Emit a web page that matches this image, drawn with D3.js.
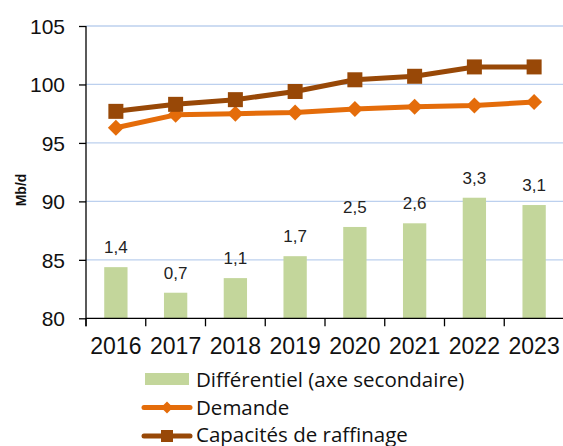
<!DOCTYPE html>
<html>
<head>
<meta charset="utf-8">
<script src="https://cdn.jsdelivr.net/npm/d3@7"></script>
<style>
  html, body { margin: 0; padding: 0; background: #fff; }
  svg { display: block; }
</style>
</head>
<body>
<svg id="chart" width="563" height="446"></svg>
<script>
// Raffinage mondial : demande, capacités et différentiel (Mb/d)
const years = ["2016", "2017", "2018", "2019", "2020", "2021", "2022", "2023"];
const demande = [96.3, 97.4, 97.5, 97.6, 97.9, 98.1, 98.2, 98.5];
const capacites = [97.7, 98.3, 98.7, 99.4, 100.4, 100.7, 101.5, 101.5];
const differentiel = [1.4, 0.7, 1.1, 1.7, 2.5, 2.6, 3.3, 3.1];
const yTicks = [80, 85, 90, 95, 100, 105];
const legendLabels = ["Différentiel (axe secondaire)", "Demande", "Capacités de raffinage"];

const colors = { bar: "#C3D69B", demande: "#E46C0A", capacites: "#984807", grid: "#BCD0EE" };

const svg = d3.select("#chart");
const plot = { left: 86, right: 564, top: 26, bottom: 318.3 };

const x = d3.scaleBand().domain(years).range([plot.left, plot.right]).padding(0);
const xc = d => x(d) + x.bandwidth() / 2;
const y = d3.scaleLinear().domain([80, 105]).range([plot.bottom, plot.top]);
// secondary axis (not drawn) for the differential bars
const y2 = d3.scaleLinear().domain([0, 8]).range([plot.bottom, plot.top]);

// gridlines
svg.append("g")
  .selectAll("line")
  .data(yTicks.filter(t => t !== 80))
  .join("line")
  .attr("x1", plot.left).attr("x2", plot.right)
  .attr("y1", d => y(d)).attr("y2", d => y(d))
  .attr("stroke", colors.grid).attr("stroke-width", 1.3);

// bars
const barW = x.bandwidth() * 0.39;
svg.append("g")
  .selectAll("rect")
  .data(differentiel)
  .join("rect")
  .attr("x", (d, i) => xc(years[i]) - barW / 2)
  .attr("width", barW)
  .attr("y", d => y2(d))
  .attr("height", d => y2(0) - y2(d))
  .attr("fill", colors.bar);

// bar value labels
svg.append("g")
  .selectAll("text")
  .data(differentiel)
  .join("text")
  .attr("x", (d, i) => xc(years[i]))
  .attr("y", d => y2(d) - 14)
  .attr("text-anchor", "middle")
  .attr("font-family", "Liberation Sans, Arial, sans-serif")
  .attr("font-size", 17)
  .attr("fill", "#222")
  .text(d => d.toFixed(1).replace(".", ","));

// y axis
const yAxis = svg.append("g")
  .attr("transform", `translate(${plot.left},0)`)
  .call(d3.axisLeft(y).tickValues(yTicks).tickSize(7).tickPadding(14));
yAxis.select(".domain").attr("stroke", "#000").attr("stroke-width", 1.3)
  .attr("d", `M0,${plot.top}V${plot.bottom + 8}`);
yAxis.selectAll(".tick line").attr("stroke", "#000").attr("stroke-width", 1.3);
yAxis.selectAll(".tick text")
  .attr("font-family", "Liberation Sans, Arial, sans-serif")
  .attr("font-size", 21)
  .attr("fill", "#111")
  .attr("dy", "0.35em");

// x axis
svg.append("line")
  .attr("x1", plot.left).attr("x2", plot.right)
  .attr("y1", plot.bottom).attr("y2", plot.bottom)
  .attr("stroke", "#000").attr("stroke-width", 1.3);
svg.append("g")
  .selectAll("line")
  .data(years.concat(["end"]))
  .join("line")
  .attr("x1", (d, i) => plot.left + i * x.step())
  .attr("x2", (d, i) => plot.left + i * x.step())
  .attr("y1", plot.bottom).attr("y2", plot.bottom + 8)
  .attr("stroke", "#000").attr("stroke-width", 1.3);
svg.append("g")
  .selectAll("text")
  .data(years)
  .join("text")
  .attr("x", d => xc(d))
  .attr("y", 354)
  .attr("text-anchor", "middle")
  .attr("font-family", "Liberation Sans, Arial, sans-serif")
  .attr("font-size", 23)
  .attr("fill", "#111")
  .text(d => d);

// y axis title
svg.append("text")
  .attr("transform", "translate(26,190) rotate(-90)")
  .attr("text-anchor", "middle")
  .attr("font-family", "Liberation Sans, Arial, sans-serif")
  .attr("font-weight", "bold")
  .attr("font-size", 14)
  .attr("fill", "#111")
  .text("Mb/d");

// lines with markers
const line = d3.line().x((d, i) => xc(years[i])).y(d => y(d));

svg.append("path").datum(demande)
  .attr("d", line).attr("fill", "none")
  .attr("stroke", colors.demande).attr("stroke-width", 5).attr("stroke-linejoin", "round");
svg.append("g").selectAll("path")
  .data(demande).join("path")
  .attr("transform", (d, i) => `translate(${xc(years[i])},${y(d)})`)
  .attr("d", "M0,-8L8,0L0,8L-8,0Z")
  .attr("fill", colors.demande);

svg.append("path").datum(capacites)
  .attr("d", line).attr("fill", "none")
  .attr("stroke", colors.capacites).attr("stroke-width", 5).attr("stroke-linejoin", "round");
svg.append("g").selectAll("rect")
  .data(capacites).join("rect")
  .attr("x", (d, i) => xc(years[i]) - 7.5)
  .attr("y", d => y(d) - 7.5)
  .attr("width", 15).attr("height", 15)
  .attr("fill", colors.capacites);

// legend
const legend = svg.append("g");
const rowY = [379, 407.5, 436];
const textY = [386.5, 415, 441.5];
legend.append("rect")
  .attr("x", 145).attr("y", rowY[0] - 6).attr("width", 44).attr("height", 12)
  .attr("fill", colors.bar);
[[colors.demande, "diamond"], [colors.capacites, "square"]].forEach(([c, m], k) => {
  const yy = rowY[k + 1];
  legend.append("line")
    .attr("x1", 144).attr("x2", 190).attr("y1", yy).attr("y2", yy)
    .attr("stroke", c).attr("stroke-width", 5).attr("stroke-linecap", "round");
  if (m === "diamond") {
    legend.append("path").attr("d", `M167,${yy - 6}L173,${yy}L167,${yy + 6}L161,${yy}Z`).attr("fill", c);
  } else {
    legend.append("rect").attr("x", 161).attr("y", yy - 6).attr("width", 12).attr("height", 12).attr("fill", c);
  }
});
legend.selectAll("text.lg")
  .data(legendLabels)
  .join("text")
  .attr("class", "lg")
  .attr("x", 196)
  .attr("y", (d, i) => textY[i])
  .attr("font-family", "Open Sans, sans-serif")
  .attr("font-size", 20.5)
  .attr("fill", "#111")
  .text(d => d);
</script>
</body>
</html>
